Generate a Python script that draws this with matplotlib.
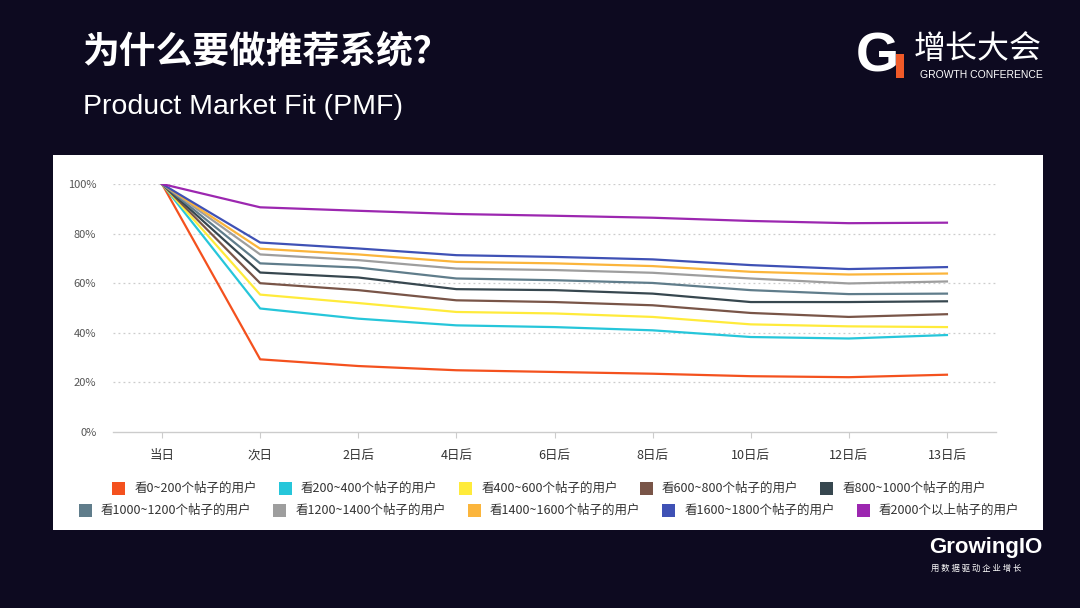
import numpy as np
import matplotlib
matplotlib.use('Agg')
import matplotlib.pyplot as plt
from matplotlib.patches import Rectangle

plt.rcParams['font.family'] = ['Noto Sans CJK SC', 'DejaVu Sans']

days = ['当日', '次日', '2日后', '4日后', '6日后', '8日后', '10日后', '12日后', '13日后']
yticks = [0, 20, 40, 60, 80, 100]
ylabels = ['0%', '20%', '40%', '60%', '80%', '100%']

names = ['看0~200个帖子的用户', '看200~400个帖子的用户', '看400~600个帖子的用户',
         '看600~800个帖子的用户', '看800~1000个帖子的用户', '看1000~1200个帖子的用户',
         '看1200~1400个帖子的用户', '看1400~1600个帖子的用户', '看1600~1800个帖子的用户',
         '看2000个以上帖子的用户']
colors = ['#f4511e', '#26c6da', '#ffeb3b', '#795548', '#37474f',
          '#607d8b', '#9e9e9e', '#fbb53c', '#3f51b5', '#9c27b0']

v_0_200 = [100, 29.3, 26.6, 24.9, 24.2, 23.5, 22.5, 22.1, 23.1]
v_200_400 = [100, 49.8, 45.7, 43.0, 42.3, 41.0, 38.3, 37.7, 39.1]
v_400_600 = [100, 55.4, 52.0, 48.4, 47.8, 46.4, 43.4, 42.6, 42.3]
v_600_800 = [100, 60.0, 57.2, 53.1, 52.4, 51.1, 48.0, 46.4, 47.5]
v_800_1000 = [100, 64.3, 62.3, 57.6, 57.2, 55.8, 52.4, 52.4, 52.7]
v_1000_1200 = [100, 68.0, 66.3, 61.9, 61.2, 60.1, 57.2, 55.6, 55.8]
v_1200_1400 = [100, 71.6, 69.3, 65.9, 65.3, 64.2, 61.9, 59.9, 60.7]
v_1400_1600 = [100, 73.9, 71.6, 68.6, 68.0, 66.9, 64.6, 63.5, 63.9]
v_1600_1800 = [100, 76.4, 74.0, 71.3, 70.6, 69.6, 67.3, 65.7, 66.5]
v_2000_plus = [100, 90.6, 89.2, 87.9, 87.2, 86.4, 85.1, 84.2, 84.4]

series = [v_0_200, v_200_400, v_400_600, v_600_800, v_800_1000,
          v_1000_1200, v_1200_1400, v_1400_1600, v_1600_1800, v_2000_plus]

W, H = 1080, 608
fig = plt.figure(figsize=(W / 100, H / 100), dpi=100)
fig.patch.set_facecolor('#0d0a20')

# white panel
fig.add_artist(Rectangle((53 / W, 1 - 530 / H), 990 / W, 375 / H,
                         transform=fig.transFigure, facecolor='white', edgecolor='none', zorder=0))

# titles
fig.text(82 / W, 1 - 52 / H, '为什么要做推荐系统？', color='white', fontsize=26.5,
         fontweight='bold', va='center', ha='left')
fig.text(83 / W, 1 - 107 / H, 'Product Market Fit (PMF)', color='white', fontsize=20.5,
         family=['Liberation Sans', 'DejaVu Sans'], va='center', ha='left')

# logo top right
fig.text(856 / W, 1 - 58 / H, 'G', color='white', fontsize=40, fontweight='bold',
         family=['Liberation Sans', 'DejaVu Sans'], va='center', ha='left')
fig.add_artist(Rectangle((896 / W, 1 - 78 / H), 8 / W, 24 / H, transform=fig.transFigure,
                         facecolor='#f05a28', edgecolor='none'))
fig.text(914 / W, 1 - 49 / H, '增长大会', color='white', fontsize=23, va='center', ha='left')
fig.text(920 / W, 1 - 75 / H, 'GROWTH CONFERENCE', color='white', fontsize=7.5,
         family=['Liberation Sans', 'DejaVu Sans'], va='center', ha='left')

# logo bottom right
fig.text(929 / W, 1 - 548 / H, 'GrowingIO', color='white', fontsize=16, fontweight='bold',
         family=['Liberation Sans', 'DejaVu Sans'], va='center', ha='left')
fig.text(931 / W, 1 - 568 / H, '用 数 据 驱 动 企 业 增 长', color='white', fontsize=6,
         va='center', ha='left')

# chart
ax = fig.add_axes([113 / W, 1 - 432 / H, 883 / W, 248 / H])
ax.set_facecolor('none')
x = np.arange(len(days))
for vals, c, n in zip(series, colors, names):
    ax.plot(x, vals, color=c, lw=1.6, label=n, solid_joinstyle='round')

ax.set_xlim(-0.5, len(days) - 0.5)
ax.set_ylim(0, 100)
ax.set_xticks(x)
ax.set_xticklabels(days, fontsize=9, color='#333333')
ax.set_yticks(yticks)
ax.set_yticklabels(ylabels, fontsize=8, color='#555555')
ax.tick_params(axis='y', length=0, pad=12)
ax.tick_params(axis='x', length=4, color='#cccccc', pad=8)
for yv in yticks[1:]:
    ax.axhline(yv, color='#cccccc', lw=0.9, ls=(0, (1.5, 2.5)), zorder=0)
for s in ['top', 'right', 'left']:
    ax.spines[s].set_visible(False)
ax.spines['bottom'].set_color('#cccccc')
ax.spines['bottom'].set_linewidth(1)

# legend: centered flow layout in two rows
fig.canvas.draw()
renderer = fig.canvas.get_renderer()
rows = [range(0, 5), range(5, 10)]
row_y = [488, 510]
mk, gap_t, gap_i = 13, 9, 22
cx = 549
for r, ry in zip(rows, row_y):
    texts = []
    widths = []
    for i in r:
        t = fig.text(0, 0, names[i], fontsize=9, color='#333333', va='center', ha='left')
        texts.append(t)
        widths.append(t.get_window_extent(renderer).width)
    total = sum(mk + gap_t + w for w in widths) + gap_i * (len(widths) - 1)
    xpos = cx - total / 2
    for i, t, w in zip(r, texts, widths):
        fig.add_artist(Rectangle((xpos / W, 1 - (ry + 6.5) / H), mk / W, mk / H,
                                 transform=fig.transFigure, facecolor=colors[i], edgecolor='none'))
        t.set_position(((xpos + mk + gap_t) / W, 1 - ry / H))
        xpos += mk + gap_t + w + gap_i

fig.savefig('out.png', dpi=100, facecolor=fig.get_facecolor())
